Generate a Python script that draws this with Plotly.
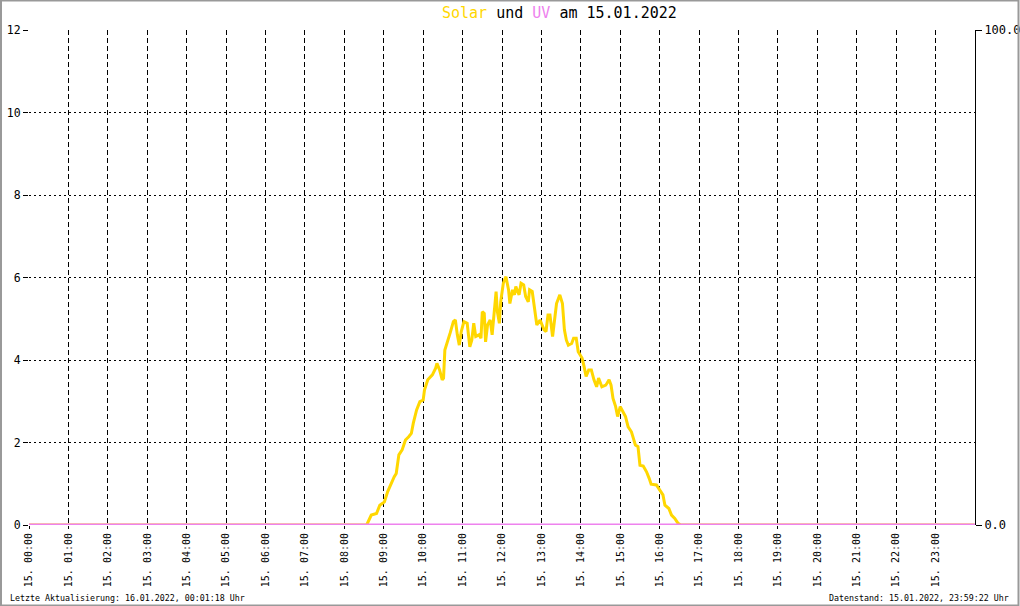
import plotly.graph_objects as go

# Solar (left axis) and UV (right axis) readings for 15.01.2022
solar_times = [
    '00:00', '08:34', '08:41', '08:49', '08:54', '09:01', '09:06', '09:11', '09:16', '09:19',
    '09:23', '09:28', '09:33', '09:38', '09:42', '09:45', '09:50', '09:55', '10:00', '10:02',
    '10:07', '10:14', '10:19', '10:21', '10:25', '10:29', '10:31', '10:33', '10:37', '10:41',
    '10:46', '10:49', '10:52', '10:55', '10:58', '11:02', '11:07', '11:11', '11:14', '11:17',
    '11:20', '11:25', '11:28', '11:30', '11:33', '11:35', '11:38', '11:42', '11:45', '11:48',
    '11:51', '11:53', '11:56', '11:58', '12:02', '12:06', '12:10', '12:12', '12:16', '12:19',
    '12:21', '12:26', '12:29', '12:33', '12:36', '12:40', '12:42', '12:46', '12:50', '12:53',
    '12:58', '13:00', '13:04', '13:07', '13:10', '13:13', '13:15', '13:17', '13:20', '13:23',
    '13:28', '13:32', '13:35', '13:38', '13:41', '13:46', '13:49', '13:53', '13:56', '14:02',
    '14:05', '14:08', '14:12', '14:16', '14:20', '14:24', '14:27', '14:30', '14:32', '14:38',
    '14:43', '14:46', '14:49', '14:53', '14:56', '15:00', '15:04', '15:08', '15:12', '15:17',
    '15:20', '15:23', '15:27', '15:30', '15:35', '15:40', '15:44', '15:47', '15:55', '16:00',
    '16:05', '16:08', '16:14', '16:18', '16:23', '16:28', '16:32', '23:59',
]
solar_values = [
    0.0, 0.0, 0.24, 0.28, 0.48, 0.56, 0.81, 1.01, 1.17, 1.25,
    1.70, 1.82, 2.06, 2.14, 2.22, 2.47, 2.79, 2.99, 3.03, 3.27,
    3.52, 3.64, 3.80, 3.92, 3.76, 3.52, 3.56, 4.24, 4.48, 4.65,
    4.93, 4.97, 4.61, 4.36, 4.69, 4.93, 4.89, 4.32, 4.48, 4.89,
    4.57, 4.61, 4.53, 5.17, 5.13, 4.44, 4.85, 4.97, 4.61, 5.13,
    5.66, 5.17, 4.89, 5.41, 5.86, 6.02, 5.70, 5.37, 5.70, 5.58,
    5.78, 5.58, 5.86, 5.82, 5.54, 5.41, 5.70, 5.66, 5.21, 4.85,
    4.97, 4.89, 4.73, 4.69, 5.09, 5.09, 4.85, 4.57, 4.97, 5.37,
    5.58, 5.37, 4.73, 4.48, 4.36, 4.40, 4.53, 4.53, 4.20, 4.04,
    3.84, 3.60, 3.76, 3.76, 3.52, 3.35, 3.56, 3.43, 3.35, 3.39,
    3.52, 3.39, 3.07, 2.87, 2.63, 2.87, 2.75, 2.63, 2.38, 2.26,
    2.10, 1.94, 1.90, 1.45, 1.43, 1.29, 1.13, 0.99, 0.97, 0.85,
    0.73, 0.48, 0.40, 0.24, 0.16, 0.04, 0.0, 0.0,
]

uv_times = ['00:00', '06:00', '12:00', '18:00', '23:59:59']
uv_values = [0.0, 0.0, 0.0, 0.0, 0.0]

# hourly x ticks (00:00 .. 23:00)
tick_hours = ['00', '01', '02', '03', '04', '05', '06', '07', '08', '09', '10', '11',
              '12', '13', '14', '15', '16', '17', '18', '19', '20', '21', '22', '23']

day = '2022-01-15'
solar_x = [f'{day} {t}' for t in solar_times]
uv_x = [f'{day} {t}' for t in uv_times]
tick_x = [f'{day} {h}:00' for h in tick_hours]

title_html = ('<span style="color:#FFD700">Solar</span> und '
              '<span style="color:#EE82EE">UV</span> am 15.01.2022')
footer_left = 'Letzte Aktualisierung: 16.01.2022, 00:01:18 Uhr'
footer_right = 'Datenstand: 15.01.2022, 23:59:22 Uhr'

mono = 'DejaVu Sans Mono'

# plot area in pixels (for placing the free texts)
W, H = 1020, 606
L, R, T, B = 29, 45, 30, 81
pw, ph = W - L - R, H - T - B

def px(x):
	return (x - L) / pw

def py(y):
	return (H - B - y) / ph

fig = go.Figure()

fig.add_trace(go.Scatter(
	x=solar_x, y=solar_values,
	mode='lines', name='Solar',
	line={'color': '#FFD700', 'width': 3},
	yaxis='y',
))

fig.add_trace(go.Scatter(
	x=uv_x, y=uv_values,
	mode='lines', name='UV',
	line={'color': '#EE82EE', 'width': 3},
	yaxis='y2',
))

fig.update_layout(
	width=W, height=H,
	paper_bgcolor='white',
	plot_bgcolor='white',
	showlegend=False,
	margin=dict(l=L, r=R, t=T, b=B, pad=0, autoexpand=False),
	font={'family': mono, 'color': 'black'},
	xaxis=dict(
		type='date', automargin=False,
		range=[f'{day} 00:00:00', '2022-01-16 00:00:00'],
		tickvals=tick_x,
		tickformat='%d. %H:%M', tickangle=-90,
		tickfont={'family': mono, 'size': 10, 'color': 'black'},
		showgrid=True, gridcolor='black', gridwidth=1, griddash='5px,3px',
		ticks='outside', ticklen=3, tickcolor='black',
		showline=False, zeroline=False,
	),
	yaxis=dict(
		range=[0, 12], dtick=2, automargin=False,
		tickfont={'family': mono, 'size': 11.5, 'color': 'black'},
		showgrid=True, gridcolor='black', gridwidth=1, griddash='2px,3px',
		ticks='outside', ticklen=5, tickcolor='black',
		showline=False, zeroline=False,
	),
	yaxis2=dict(
		overlaying='y', side='right', automargin=False,
		range=[0, 100], tickvals=[0, 100], tickformat='.1f',
		tickfont={'family': mono, 'size': 12, 'color': 'black'},
		showgrid=False, zeroline=False,
		showline=True, linecolor='black', linewidth=1,
		ticks='outside', ticklen=6, tickcolor='black',
	),
)

# title and footer texts
fig.add_annotation(text=title_html, xref='paper', yref='paper',
				   x=px(559), y=py(13), xanchor='center', yanchor='middle',
				   showarrow=False, font={'family': mono, 'size': 15, 'color': 'black'})
fig.add_annotation(text=footer_left, xref='paper', yref='paper',
				   x=px(8), y=py(598), xanchor='left', yanchor='middle',
				   showarrow=False, font={'family': mono, 'size': 8.3, 'color': 'black'})
fig.add_annotation(text=footer_right, xref='paper', yref='paper',
				   x=px(1011), y=py(598), xanchor='right', yanchor='middle',
				   showarrow=False, font={'family': mono, 'size': 8.3, 'color': 'black'})

# grey frame around the picture
fig.add_shape(type='rect', xref='paper', yref='paper',
			  x0=px(1), x1=px(1018.5), y0=py(605.5), y1=py(0.5),
			  line={'color': '#999999', 'width': 2}, layer='above')

# page without body margin or scrollbars so the figure sits at the window's corner
page_js = ("document.body.style.margin='0';"
		   "document.body.style.overflow='hidden';"
		   "document.documentElement.style.overflow='hidden';")
fig.write_html('out.html', post_script=page_js, config={'displayModeBar': False})
